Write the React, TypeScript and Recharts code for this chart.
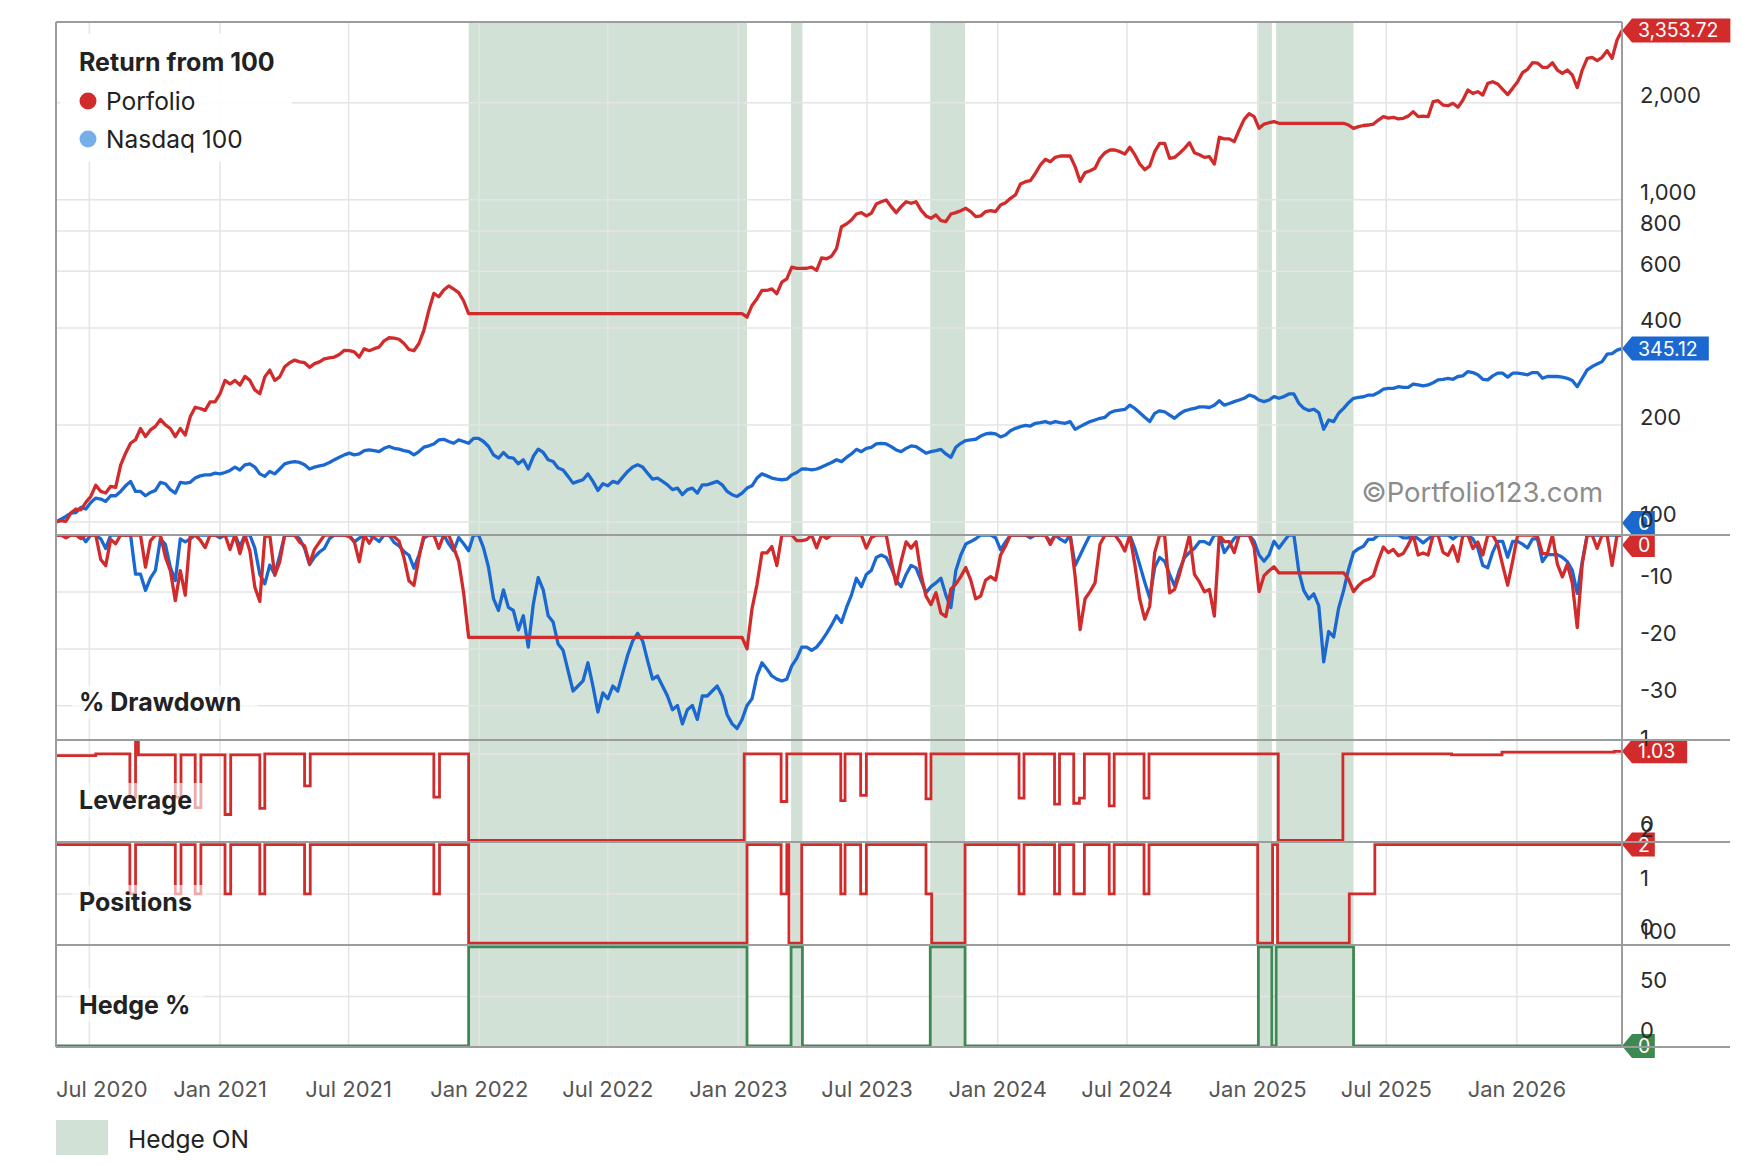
import React from "react";
import {
  LineChart,
  Line,
  XAxis,
  YAxis,
  ReferenceLine,
  ReferenceArea,
  ReferenceDot,
} from "recharts";

const FONT = "Inter, 'Liberation Sans', Arial, sans-serif";
const RED = "#d12b2b";
const BLUE = "#1a68d0";
const BLUE_LIGHT = "#76aee9";
const GREEN = "#3e8851";
const SHADE = "#d2e1d6";
const GRID = "#e4e4e4";
const FRAME = "#9c9c9c";

const WIDTH = 1742;
const PLOT_LEFT = 56;
const AXIS_W = 120;
const PAD = 24;

// weekly closes, first week 2020-05-15
const firstWeek = "2020-05-15";

const portfolio = [
  100, 101, 100.5, 106.6, 109.7, 109, 115, 120, 130, 124.4,
  123, 129, 128, 150, 163.5, 175.5, 180, 195, 184, 193,
  198, 208, 200, 195, 184, 195, 186, 212, 227, 225,
  222, 236, 236, 250, 275, 268, 275, 266, 283, 275,
  257, 250, 282, 296, 275, 282, 303, 312, 318, 314,
  312, 302, 310, 314, 321, 323, 325, 331, 341, 340,
  337, 325, 345, 340, 345, 349, 365, 373, 372, 369,
  358, 343, 340, 358, 393, 454, 512, 500, 525, 540,
  528, 515, 485, 443, 443, 443, 443, 443, 443, 443,
  443, 443, 443, 443, 443, 443, 443, 443, 443, 443,
  443, 443, 443, 443, 443, 443, 443, 443, 443, 443,
  443, 443, 443, 443, 443, 443, 443, 443, 443, 443,
  443, 443, 443, 443, 443, 443, 443, 443, 443, 443,
  443, 443, 443, 443, 443, 443, 443, 443, 443, 432,
  470, 493, 523, 523, 529, 511, 555, 568, 618, 612,
  612, 613, 618, 604, 660, 656, 668, 705, 825, 841,
  865, 903, 912, 891, 908, 970, 986, 998, 952, 912,
  952, 986, 975, 986, 929, 891, 876, 897, 861, 855,
  903, 912, 925, 941, 919, 886, 891, 919, 925, 919,
  963, 979, 1010, 1035, 1120, 1138, 1146, 1208, 1282, 1335,
  1313, 1354, 1367, 1367, 1367, 1267, 1140, 1214, 1231, 1252,
  1345, 1400, 1427, 1427, 1410, 1387, 1455, 1380, 1291, 1240,
  1273, 1410, 1497, 1497, 1345, 1354, 1394, 1444, 1504, 1400,
  1380, 1354, 1360, 1290, 1563, 1545, 1545, 1515, 1646, 1776,
  1850, 1811, 1666, 1718, 1734, 1747, 1727, 1727, 1727, 1727,
  1727, 1727, 1727, 1727, 1727, 1727, 1727, 1727, 1727, 1727,
  1706, 1666, 1686, 1700, 1706, 1718, 1768, 1811, 1793, 1803,
  1783, 1790, 1818, 1877, 1811, 1818, 1811, 2015, 2030, 1968,
  1958, 1992, 1936, 2040, 2191, 2139, 2164, 2114, 2297, 2325,
  2287, 2201, 2120, 2217, 2325, 2480, 2540, 2663, 2656, 2576,
  2576, 2663, 2527, 2467, 2527, 2439, 2230, 2527, 2747, 2767,
  2702, 2767, 2902, 2747, 3131, 3353.72,
];

const nasdaq = [
  100, 102, 104, 106.6, 107, 111, 109.7, 115, 118.6, 117.8,
  115.8, 120.6, 120.6, 124.4, 129.5, 133.6, 124.4, 124.4, 120.6, 123.5,
  125.3, 132.7, 131.4, 126, 122.9, 132.7, 132, 132.7, 136.8, 139,
  140, 140, 141.7, 141, 142.4, 144.5, 148, 145, 150.4, 151.5,
  148, 141, 138.5, 143.5, 141, 146, 151.5, 153, 154, 153,
  150.4, 146, 148, 149.4, 150.4, 153, 156, 158.7, 161.5, 163.5,
  161.5, 162.6, 166.5, 167.3, 166.5, 165.4, 169.3, 171.5, 169.3, 168.2,
  166.5, 165.4, 161.5, 165.4, 170.6, 172.3, 174.6, 179.7, 180.5, 177.7,
  175.5, 179.7, 177.7, 175.5, 181.8, 181.8, 177.7, 171.5, 161.5, 157.7,
  164.3, 158.7, 157.7, 151.5, 156, 146, 159.6, 168.2, 164.3, 156,
  154, 147, 145, 138.5, 132, 133.6, 135.2, 141, 133.6, 125.3,
  131.4, 129.5, 133.6, 132, 137.8, 143.5, 148, 150.4, 148, 141.7,
  135.8, 136.8, 133.6, 130.4, 126, 127.4, 121.5, 126, 127.4, 122.9,
  130.4, 130.4, 132, 133.6, 130.4, 124.4, 121.5, 120, 122.9, 127.4,
  129.5, 136.8, 141, 139, 136.8, 135.8, 135.2, 135.8, 140, 142.4,
  146, 146, 145, 146, 148, 150.4, 153, 156, 153.9, 158.6,
  162.6, 168, 165.3, 169.2, 170.5, 174.6, 175.4, 174.6, 171.3, 167.3,
  165.3, 169.2, 172.1, 171.3, 167.3, 163.4, 165.3, 166.5, 168, 162.6,
  158.6, 170.5, 175.4, 178.9, 179.7, 180.6, 184.8, 187.6, 188.5, 187.6,
  183.6, 186.2, 192, 195.2, 197.6, 199.5, 198.5, 202.4, 203.4, 204.9,
  202.4, 204.9, 203.4, 202.4, 204.9, 193.9, 197.6, 201.4, 204.9, 207.3,
  209.8, 211.3, 218.3, 221.3, 222.3, 223.4, 230.4, 225, 218.3, 211.3,
  204.9, 217.3, 221.3, 219.8, 214.5, 209.8, 216.3, 221.3, 223.4, 225,
  227.7, 227.7, 226.6, 230.4, 237.7, 230.4, 233.2, 236.3, 239, 242,
  247.7, 245, 239, 236.3, 239, 245, 242, 245, 249.6, 249.6,
  233.5, 225.2, 221.6, 223.8, 218.6, 194, 207.3, 204.9, 217.5, 225.2,
  234.6, 242, 243.6, 244.7, 247.7, 247.7, 252.2, 258.2, 259.8, 259.8,
  262.9, 261.6, 261.6, 268, 266.2, 264.3, 266.2, 270.4, 276, 277.2,
  279.2, 277.2, 282.8, 284.1, 292.9, 290.9, 286.2, 277.2, 276, 284.1,
  289.6, 289.6, 281.5, 289.6, 289.6, 288.2, 286.2, 290.9, 290.9, 279.2,
  282.8, 282.8, 282.8, 281.5, 279.2, 274.7, 262.9, 279.2, 296.4, 303.6,
  309, 314.5, 331.6, 333.2, 341.3, 345.12,
];

// [date the value takes effect, value]
const leverageSteps: [string, number][] = [
  ["2020-05-15", 0.98],
  ["2020-07-10", 1.0],
  ["2020-08-27", 0.5],
  ["2020-09-04", 1.14],
  ["2020-09-08", 0.99],
  ["2020-10-30", 0.5],
  ["2020-11-07", 0.99],
  ["2020-11-27", 0.38],
  ["2020-12-05", 0.99],
  ["2021-01-08", 0.3],
  ["2021-01-16", 0.99],
  ["2021-02-26", 0.37],
  ["2021-03-05", 1.0],
  ["2021-04-30", 0.63],
  ["2021-05-08", 1.0],
  ["2021-10-29", 0.5],
  ["2021-11-06", 1.0],
  ["2021-12-17", 0],
  ["2023-01-09", 1.0],
  ["2023-03-02", 0.45],
  ["2023-03-10", 1.0],
  ["2023-05-25", 0.46],
  ["2023-05-31", 1.0],
  ["2023-06-22", 0.52],
  ["2023-06-30", 1.0],
  ["2023-09-22", 0.48],
  ["2023-09-29", 1.0],
  ["2024-01-31", 0.49],
  ["2024-02-07", 1.0],
  ["2024-03-21", 0.42],
  ["2024-03-28", 1.0],
  ["2024-04-17", 0.43],
  ["2024-04-25", 0.49],
  ["2024-05-02", 1.0],
  ["2024-06-06", 0.4],
  ["2024-06-13", 1.0],
  ["2024-07-25", 0.49],
  ["2024-08-01", 1.0],
  ["2025-01-30", 0],
  ["2025-05-01", 1.0],
  ["2025-10-01", 0.99],
  ["2025-12-11", 1.02],
  ["2026-05-18", 1.03],
  ["2026-05-29", 1.03],
];

const positionSteps: [string, number][] = [
  ["2020-05-15", 2],
  ["2020-08-27", 1],
  ["2020-09-04", 2],
  ["2020-10-30", 1],
  ["2020-11-07", 2],
  ["2020-11-27", 1],
  ["2020-12-05", 2],
  ["2021-01-08", 1],
  ["2021-01-16", 2],
  ["2021-02-26", 1],
  ["2021-03-05", 2],
  ["2021-04-30", 1],
  ["2021-05-08", 2],
  ["2021-10-29", 1],
  ["2021-11-06", 2],
  ["2021-12-17", 0],
  ["2023-01-13", 2],
  ["2023-03-02", 1],
  ["2023-03-10", 2],
  ["2023-03-13", 0],
  ["2023-03-31", 2],
  ["2023-05-25", 1],
  ["2023-05-31", 2],
  ["2023-06-22", 1],
  ["2023-06-30", 2],
  ["2023-09-22", 1],
  ["2023-09-30", 0],
  ["2023-11-16", 2],
  ["2024-01-31", 1],
  ["2024-02-07", 2],
  ["2024-03-21", 1],
  ["2024-03-28", 2],
  ["2024-04-17", 1],
  ["2024-05-02", 2],
  ["2024-06-06", 1],
  ["2024-06-13", 2],
  ["2024-07-25", 1],
  ["2024-08-01", 2],
  ["2025-01-01", 0],
  ["2025-01-22", 2],
  ["2025-01-29", 0],
  ["2025-05-10", 1],
  ["2025-06-15", 2],
  ["2026-05-29", 2],
];

const hedgeSteps: [string, number][] = [
  ["2020-05-15", 0],
  ["2021-12-17", 100],
  ["2023-01-13", 0],
  ["2023-03-16", 100],
  ["2023-04-01", 0],
  ["2023-09-28", 100],
  ["2023-11-16", 0],
  ["2025-01-02", 100],
  ["2025-01-21", 0],
  ["2025-01-27", 100],
  ["2025-05-16", 0],
  ["2026-05-29", 0],
];

const dateTicks = [
  "2020-07-01", "2021-01-01", "2021-07-01", "2022-01-01", "2022-07-01", "2023-01-01",
  "2023-07-01", "2024-01-01", "2024-07-01", "2025-01-01", "2025-07-01", "2026-01-01",
];
const returnTicks = [100, 200, 400, 600, 800, 1000, 2000];
const drawdownTicks = [0, -10, -20, -30];
const leverageTicks = [0, 1];
const positionTicks = [0, 1, 2];
const hedgeTicks = [0, 50, 100];

const MONTHS = ["Jan", "Feb", "Mar", "Apr", "May", "Jun", "Jul", "Aug", "Sep", "Oct", "Nov", "Dec"];
const DAY = 86400000;
const toTime = (d: string) => Date.parse(d + "T00:00:00Z");
const t0 = toTime(firstWeek);

// weekly table plus running-peak drawdowns
let peakP = 0;
let peakN = 0;
const rows = portfolio.map((p, i) => {
  const n = nasdaq[i];
  peakP = Math.max(peakP, p);
  peakN = Math.max(peakN, n);
  return {
    t: t0 + i * 7 * DAY,
    portfolio: p,
    nasdaq: n,
    ddPortfolio: (p / peakP - 1) * 100,
    ddNasdaq: (n / peakN - 1) * 100,
  };
});
const last = rows[rows.length - 1];
const X_DOMAIN = [rows[0].t, last.t];

const stepRows = (steps: [string, number][]) => steps.map(([d, v]) => ({ t: toTime(d), v }));
const leverageRows = stepRows(leverageSteps);
const positionRows = stepRows(positionSteps);
const hedgeRows = stepRows(hedgeSteps);

const hedgeSpans: [number, number][] = [];
hedgeRows.forEach((r, i) => {
  if (r.v === 100 && i + 1 < hedgeRows.length) hedgeSpans.push([r.t, hedgeRows[i + 1].t]);
});
const gridTimes = dateTicks.map(toTime);

const PANELS = {
  ret: { top: 22, height: 513, domain: [91.1, 3562] },
  dd: { top: 535, height: 205, domain: [-36, 0] },
  lev: { top: 740, height: 102, domain: [-0.018, 1.161] },
  pos: { top: 842, height: 103, domain: [-0.037, 2.053] },
  hedge: { top: 945, height: 102, domain: [-1, 101.8] },
};

const valueTick = (dy: number, fmt: (v: number) => string = String) => (props: any) => (
  <text x={props.x} y={props.y + dy} fill="#2b2b2b" fontSize={22} fontFamily={FONT}>
    {fmt(props.payload.value)}
  </text>
);

const DateTick = (props: any) => {
  const { x, y, payload, index } = props;
  const d = new Date(payload.value);
  const first = index === 0;
  return (
    <text
      x={first ? PLOT_LEFT : x}
      y={y + 50}
      textAnchor={first ? "start" : "middle"}
      fill="#555"
      fontSize={22}
      fontFamily={FONT}
    >
      {`${MONTHS[d.getUTCMonth()]} ${d.getUTCFullYear()}`}
    </text>
  );
};

// value flag on the right axis
const badge = (text: string, color: string, dy = 0) => (p: any) => {
  const x = p.cx;
  const y = p.cy + dy;
  const w = text.length * 10.8 + 12;
  const h = 12;
  return (
    <g>
      <path
        d={`M${x},${y} L${x + 10},${y - h} L${x + 10 + w},${y - h} L${x + 10 + w},${y + h} L${x + 10},${y + h} Z`}
        fill={color}
      />
      <text x={x + 16} y={y + 7} fill="#fff" fontSize={19.5} fontFamily={FONT}>
        {text}
      </text>
    </g>
  );
};

const shading = (id: string) =>
  hedgeSpans.map(([a, b], i) => (
    <ReferenceArea key={`${id}-s${i}`} x1={a} x2={b} fill={SHADE} fillOpacity={1} stroke="none" />
  ));

const grid = (id: string, yTicks: number[]) => [
  ...gridTimes.map((t) => (
    <ReferenceLine key={`${id}-gx${t}`} x={t} stroke={GRID} strokeWidth={1.5} />
  )),
  ...yTicks.map((v) => (
    <ReferenceLine key={`${id}-gy${v}`} y={v} stroke={GRID} strokeWidth={1.5} />
  )),
];

function Frame() {
  const seps = [535, 740, 842, 945, 1047];
  return (
    <svg width={WIDTH} height={1166} style={{ position: "absolute", left: 0, top: 0, pointerEvents: "none" }}>
      <line x1={PLOT_LEFT} y1={22} x2={1622} y2={22} stroke={FRAME} strokeWidth={2} />
      {seps.map((y) => (
        <line key={y} x1={PLOT_LEFT} y1={y} x2={1730} y2={y} stroke={FRAME} strokeWidth={2} />
      ))}
      <line x1={PLOT_LEFT} y1={22} x2={PLOT_LEFT} y2={1047} stroke={FRAME} strokeWidth={2} />
      <line x1={1622} y1={22} x2={1622} y2={1047} stroke={FRAME} strokeWidth={2} />

      <rect x={60} y={34} width={232} height={128} fill="#fff" fillOpacity={0.92} />
      <text x={79} y={71} fontSize={25} fontWeight={700} fill="#222" fontFamily={FONT}>
        Return from 100
      </text>
      <circle cx={88} cy={101} r={8.5} fill={RED} />
      <text x={106} y={109.5} fontSize={24.5} fill="#222" fontFamily={FONT}>
        Porfolio
      </text>
      <circle cx={88} cy={139} r={8.5} fill={BLUE_LIGHT} />
      <text x={106} y={147.5} fontSize={24.5} fill="#222" fontFamily={FONT}>
        Nasdaq 100
      </text>

      {[
        ["% Drawdown", 702, 172],
        ["Leverage", 800, 120],
        ["Positions", 902, 120],
        ["Hedge %", 1005, 118],
      ].map(([label, cy, w]) => (
        <g key={label as string}>
          <rect x={72} y={(cy as number) - 17} width={(w as number) + 14} height={34} fill="#fff" fillOpacity={0.6} />
          <text x={79} y={(cy as number) + 8.5} fontSize={25} fontWeight={700} fill="#222" fontFamily={FONT}>
            {label}
          </text>
        </g>
      ))}

      <text x={1603} y={502} textAnchor="end" fontSize={27.5} fill="#8c8c8c" fontFamily={FONT}>
        ©Portfolio123.com
      </text>

      <rect x={56} y={1120} width={52} height={35} fill={SHADE} />
      <text x={128} y={1147.5} fontSize={24.5} fill="#222" fontFamily={FONT}>
        Hedge ON
      </text>
    </svg>
  );
}

function Panel({
  top,
  height,
  data,
  bottomAxis = 0,
  children,
}: {
  top: number;
  height: number;
  data: any[];
  bottomAxis?: number;
  children: React.ReactNode;
}) {
  const padTop = Math.min(PAD, top);
  const padBottom = bottomAxis ? 0 : PAD;
  return (
    <div style={{ position: "absolute", left: 0, top: top - padTop }}>
      <LineChart
        width={WIDTH}
        height={height + padTop + padBottom + bottomAxis}
        data={data}
        margin={{ top: padTop, right: 0, bottom: padBottom, left: PLOT_LEFT }}
      >
        {children}
      </LineChart>
    </div>
  );
}

const hiddenX = <XAxis type="number" dataKey="t" domain={X_DOMAIN} hide allowDataOverflow />;

const rightAxis = (domain: number[], ticks: number[], tick: any, scale: any = "auto") => (
  <YAxis
    orientation="right"
    width={AXIS_W}
    type="number"
    scale={scale}
    domain={domain}
    ticks={ticks}
    interval={0}
    allowDataOverflow
    axisLine={false}
    tickLine={false}
    tickSize={0}
    tickMargin={18}
    tick={tick}
  />
);

export default function App() {
  const lastLev = leverageRows[leverageRows.length - 1];
  const lastPos = positionRows[positionRows.length - 1];
  const lastHedge = hedgeRows[hedgeRows.length - 1];
  const fmtMoney = (v: number) =>
    v.toLocaleString("en-US", { minimumFractionDigits: 2, maximumFractionDigits: 2 });

  return (
    <div style={{ position: "absolute", left: 0, top: 0, width: WIDTH, height: 1166, background: "#fff" }}>
      <Panel top={PANELS.ret.top} height={PANELS.ret.height} data={rows}>
        {hiddenX}
        {rightAxis(PANELS.ret.domain, returnTicks, valueTick(0.5, (v) => v.toLocaleString("en-US")), "log")}
        {shading("ret")}
        {grid("ret", returnTicks)}
        <Line dataKey="nasdaq" stroke={BLUE} strokeWidth={3.3} strokeLinejoin="round" dot={false} isAnimationActive={false} />
        <Line dataKey="portfolio" stroke={RED} strokeWidth={3.3} strokeLinejoin="round" dot={false} isAnimationActive={false} />
        <ReferenceDot x={last.t} y={last.nasdaq} r={0} ifOverflow="visible" shape={badge(last.nasdaq.toFixed(2), BLUE)} />
        <ReferenceDot x={last.t} y={last.portfolio} r={0} ifOverflow="visible" shape={badge(fmtMoney(last.portfolio), RED)} />
      </Panel>

      <Panel top={PANELS.dd.top} height={PANELS.dd.height} data={rows}>
        {hiddenX}
        {rightAxis(PANELS.dd.domain, drawdownTicks, valueTick(-8))}
        {shading("dd")}
        {grid("dd", drawdownTicks)}
        <Line dataKey="ddNasdaq" stroke={BLUE} strokeWidth={3.3} strokeLinejoin="round" dot={false} isAnimationActive={false} />
        <Line dataKey="ddPortfolio" stroke={RED} strokeWidth={3.3} strokeLinejoin="round" dot={false} isAnimationActive={false} />
        <ReferenceDot x={last.t} y={last.ddNasdaq} r={0} ifOverflow="visible" shape={badge(String(Math.round(last.ddNasdaq)), BLUE, -12)} />
        <ReferenceDot x={last.t} y={last.ddPortfolio} r={0} ifOverflow="visible" shape={badge(String(Math.round(last.ddPortfolio)), RED, 10)} />
      </Panel>

      <Panel top={PANELS.lev.top} height={PANELS.lev.height} data={leverageRows}>
        {hiddenX}
        {rightAxis(PANELS.lev.domain, leverageTicks, valueTick(-8))}
        {shading("lev")}
        {grid("lev", [1])}
        <Line type="stepAfter" dataKey="v" stroke={RED} strokeWidth={2.8} dot={false} isAnimationActive={false} />
        <ReferenceDot x={lastLev.t} y={lastLev.v} r={0} ifOverflow="visible" shape={badge(lastLev.v.toFixed(2), RED)} />
      </Panel>

      <Panel top={PANELS.pos.top} height={PANELS.pos.height} data={positionRows}>
        {hiddenX}
        {rightAxis(PANELS.pos.domain, positionTicks, valueTick(-8))}
        {shading("pos")}
        {grid("pos", [1])}
        <Line type="stepAfter" dataKey="v" stroke={RED} strokeWidth={2.8} dot={false} isAnimationActive={false} />
        <ReferenceDot x={lastPos.t} y={lastPos.v} r={0} ifOverflow="visible" shape={badge(String(lastPos.v), RED)} />
      </Panel>

      <Panel top={PANELS.hedge.top} height={PANELS.hedge.height} data={hedgeRows} bottomAxis={76}>
        <XAxis
          type="number"
          dataKey="t"
          domain={X_DOMAIN}
          allowDataOverflow
          ticks={gridTimes}
          interval={0}
          height={76}
          axisLine={false}
          tickLine={false}
          tickSize={0}
          tickMargin={0}
          tick={<DateTick />}
        />
        {rightAxis(PANELS.hedge.domain, hedgeTicks, valueTick(-8))}
        {shading("hedge")}
        {grid("hedge", [50])}
        <Line type="stepAfter" dataKey="v" stroke={GREEN} strokeWidth={2.8} dot={false} isAnimationActive={false} />
        <ReferenceDot x={lastHedge.t} y={lastHedge.v} r={0} ifOverflow="visible" shape={badge(String(lastHedge.v), GREEN)} />
      </Panel>

      <Frame />
    </div>
  );
}
